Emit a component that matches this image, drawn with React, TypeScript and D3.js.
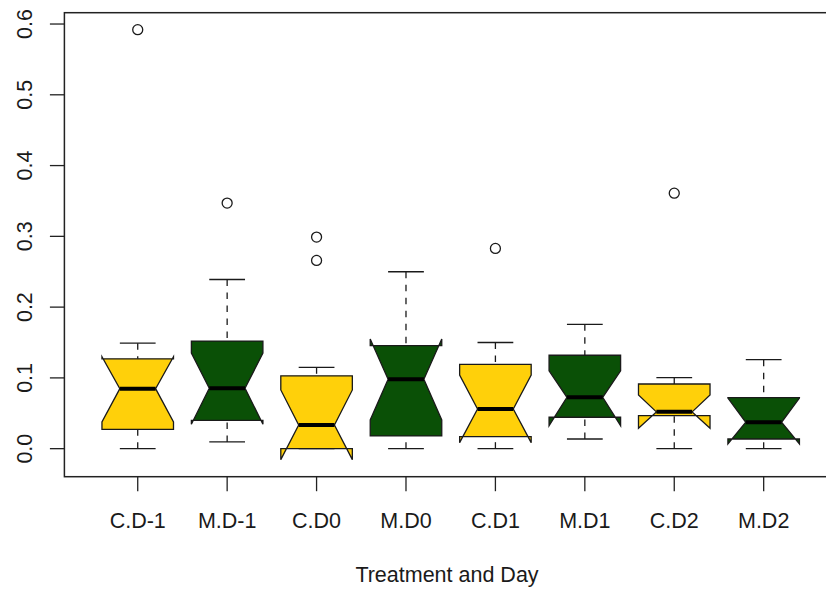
import React from "react";
import * as d3 from "d3";

const categories = ["C.D-1", "M.D-1", "C.D0", "M.D0", "C.D1", "M.D1", "C.D2", "M.D2"];
const whiskerLow = [0, 0.0095, 0, 0, 0, 0.0137, 0, 0];
const q1 = [0.0274, 0.04, 0.0, 0.018, 0.017, 0.0444, 0.0467, 0.0137];
const median = [0.0848, 0.0853, 0.0335, 0.098, 0.056, 0.0726, 0.052, 0.0373];
const q3 = [0.127, 0.152, 0.103, 0.1455, 0.119, 0.132, 0.0914, 0.072];
const whiskerHigh = [0.149, 0.239, 0.115, 0.25, 0.15, 0.1757, 0.1003, 0.1258];
const notchLow = [0.0377, 0.0345, -0.0155, 0.0405, 0.0085, 0.0325, 0.0288, 0.0066];
const notchHigh = [0.13, 0.135, 0.083, 0.155, 0.104, 0.11, 0.076, 0.0715];
const outliers: number[][] = [[0.592], [0.347], [0.299, 0.266], [], [0.283], [], [0.361], []];
const fills = ["#FFD00A", "#0A5006", "#FFD00A", "#0A5006", "#FFD00A", "#0A5006", "#FFD00A", "#0A5006"];
const yTicks = [0, 0.1, 0.2, 0.3, 0.4, 0.5, 0.6];
const xTitle = "Treatment and Day";

const W = 826;
const H = 589;
const left = 64.4;
const right = 837;
const top = 12.7;
const bottom = 476.7;
const FONT = "'Liberation Sans', Arial, Helvetica, sans-serif";
const FS = 21.5;
const INK = "#1a1a1a";

export default function App() {
  const x = d3.scaleLinear().domain([0.18, 8.82]).range([left, right]);
  const y = d3.scaleLinear().domain([-0.0396, 0.616]).range([bottom, top]);
  const unit = x(2) - x(1);
  const w = (0.8 * unit) / 2;
  const stapleW = w / 2;

  return (
    <svg
      width={W}
      height={H}
      style={{ position: "absolute", left: 0, top: 0, background: "#fff" }}
      fontFamily={FONT}
    >
      {categories.map((c, i) => {
        const cx = x(i + 1);
        const pts: [number, number][] = [
          [cx - w, y(q1[i])],
          [cx + w, y(q1[i])],
          [cx + w, y(notchLow[i])],
          [cx + w / 2, y(median[i])],
          [cx + w, y(notchHigh[i])],
          [cx + w, y(q3[i])],
          [cx - w, y(q3[i])],
          [cx - w, y(notchHigh[i])],
          [cx - w / 2, y(median[i])],
          [cx - w, y(notchLow[i])],
        ];
        const line = d3.line();
        return (
          <g key={c}>
            <path d={line(pts) + "Z"} fill={fills[i]} stroke={INK} strokeWidth={1.3} strokeLinejoin="miter" />
            <line x1={cx - w / 2} x2={cx + w / 2} y1={y(median[i])} y2={y(median[i])} stroke="#000" strokeWidth={4} />
            <line x1={cx} x2={cx} y1={y(whiskerLow[i])} y2={y(q1[i])} stroke={INK} strokeWidth={1.3} strokeDasharray="6.5,6.5" />
            <line x1={cx} x2={cx} y1={y(whiskerHigh[i])} y2={y(q3[i])} stroke={INK} strokeWidth={1.3} strokeDasharray="6.5,6.5" />
            <line x1={cx - stapleW} x2={cx + stapleW} y1={y(whiskerLow[i])} y2={y(whiskerLow[i])} stroke={INK} strokeWidth={1.3} />
            <line x1={cx - stapleW} x2={cx + stapleW} y1={y(whiskerHigh[i])} y2={y(whiskerHigh[i])} stroke={INK} strokeWidth={1.3} />
            {outliers[i].map((o, j) => (
              <circle key={j} cx={cx} cy={y(o)} r={5} fill="none" stroke={INK} strokeWidth={1.3} />
            ))}
          </g>
        );
      })}

      <rect x={left} y={top} width={right - left} height={bottom - top} fill="none" stroke="#222" strokeWidth={1.5} />

      {yTicks.map((t) => (
        <g key={t}>
          <line x1={left - 14.5} x2={left} y1={y(t)} y2={y(t)} stroke="#222" strokeWidth={1.3} />
          <text
            transform={`translate(32,${y(t)}) rotate(-90)`}
            textAnchor="middle"
            fontSize={FS}
            fill={INK}
          >
            {t.toFixed(1)}
          </text>
        </g>
      ))}

      {categories.map((c, i) => (
        <g key={c}>
          <line x1={x(i + 1)} x2={x(i + 1)} y1={bottom} y2={bottom + 14.5} stroke="#222" strokeWidth={1.3} />
          <text x={x(i + 1)} y={527.7} textAnchor="middle" fontSize={FS} fill={INK}>
            {c}
          </text>
        </g>
      ))}

      <text x={447} y={581.7} textAnchor="middle" fontSize={FS} fill={INK}>
        {xTitle}
      </text>
    </svg>
  );
}
